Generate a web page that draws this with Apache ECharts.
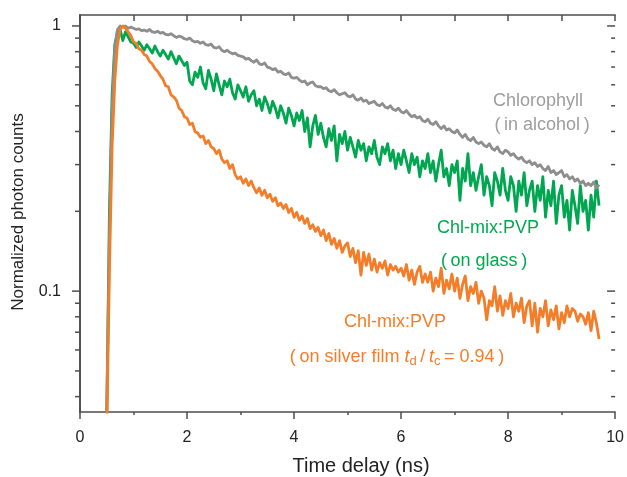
<!DOCTYPE html>
<html>
<head>
<meta charset="utf-8">
<script src="https://cdn.jsdelivr.net/npm/echarts@6/dist/echarts.min.js"></script>
<style>
  html, body { margin: 0; padding: 0; background: #fff; }
  #chart { width: 627px; height: 477px; }
</style>
</head>
<body>
<div id="chart"></div>
<script>
// Time grid of the decay traces: first sample and spacing (ns)
const T_START = 0.5;
const T_STEP = 0.05;

// Chlorophyll in alcohol (normalized counts)
const chlAlcohol = [
  0.035, 0.16, 0.48, 0.82, 0.97, 1.0, 0.99, 1.0, 0.98, 0.99,
  0.98, 0.97, 0.975, 0.96, 0.965, 0.955, 0.97, 0.95, 0.945, 0.955,
  0.94, 0.945, 0.93, 0.925, 0.935, 0.92, 0.905, 0.915, 0.91, 0.895,
  0.89, 0.9, 0.88, 0.87, 0.875, 0.86, 0.87, 0.85, 0.845, 0.855,
  0.83, 0.825, 0.835, 0.81, 0.8, 0.81, 0.795, 0.785, 0.79, 0.775,
  0.77, 0.765, 0.75, 0.755, 0.74, 0.73, 0.745, 0.72, 0.715, 0.725,
  0.70, 0.695, 0.685, 0.69, 0.67, 0.675, 0.66, 0.655, 0.665, 0.64,
  0.635, 0.64, 0.625, 0.615, 0.62, 0.6, 0.61, 0.615, 0.595, 0.59,
  0.59, 0.58, 0.585, 0.57, 0.565, 0.575, 0.56, 0.55, 0.555, 0.56,
  0.545, 0.54, 0.55, 0.53, 0.525, 0.535, 0.52, 0.525, 0.51, 0.515,
  0.52, 0.505, 0.5, 0.51, 0.495, 0.49, 0.5, 0.485, 0.48, 0.49,
  0.475, 0.47, 0.48, 0.465, 0.455, 0.46, 0.45, 0.455, 0.44, 0.435,
  0.445, 0.43, 0.425, 0.435, 0.42, 0.41, 0.42, 0.405, 0.41, 0.4,
  0.395, 0.405, 0.39, 0.38, 0.39, 0.375, 0.37, 0.38, 0.365, 0.36,
  0.365, 0.355, 0.35, 0.36, 0.345, 0.34, 0.35, 0.335, 0.33, 0.34,
  0.335, 0.325, 0.33, 0.32, 0.315, 0.32, 0.31, 0.305, 0.31, 0.3,
  0.305, 0.295, 0.3, 0.29, 0.285, 0.295, 0.28, 0.285, 0.275, 0.28,
  0.285, 0.27, 0.275, 0.265, 0.27, 0.26, 0.265, 0.255, 0.26, 0.25,
  0.255, 0.25, 0.258, 0.245, 0.252
];

// Chl-mix:PVP on glass
const pvpGlass = [
  0.035, 0.2, 0.55, 0.85, 0.95, 0.97, 0.88, 0.95, 0.91, 0.87,
  0.86, 0.83, 0.87, 0.84, 0.81, 0.85, 0.82, 0.79, 0.84, 0.80,
  0.77, 0.81, 0.78, 0.75, 0.80, 0.76, 0.72, 0.77, 0.74, 0.71,
  0.73, 0.62, 0.60, 0.67, 0.64, 0.70, 0.61, 0.58, 0.68, 0.63,
  0.57, 0.66, 0.60, 0.55, 0.62, 0.59, 0.63, 0.56, 0.53, 0.60,
  0.57, 0.54, 0.59, 0.52, 0.55, 0.57, 0.50, 0.53, 0.48, 0.54,
  0.51, 0.47, 0.52, 0.49, 0.45, 0.50, 0.47, 0.43, 0.49, 0.46,
  0.42, 0.47, 0.44, 0.48, 0.40, 0.45, 0.35, 0.42, 0.46, 0.39,
  0.43, 0.38, 0.35, 0.41, 0.37, 0.42, 0.31, 0.39, 0.36, 0.40,
  0.34, 0.38, 0.35, 0.32, 0.37, 0.34, 0.36, 0.31, 0.35, 0.33,
  0.37, 0.32, 0.30, 0.35, 0.33, 0.36, 0.31, 0.34, 0.29, 0.33,
  0.30, 0.34, 0.31, 0.28, 0.33, 0.30, 0.32, 0.27, 0.31, 0.29,
  0.33, 0.28, 0.31, 0.26, 0.30, 0.34, 0.27, 0.29, 0.25, 0.30,
  0.28, 0.31, 0.22, 0.29, 0.26, 0.33, 0.25, 0.28, 0.24, 0.27,
  0.30, 0.23, 0.27, 0.25, 0.21, 0.28, 0.26, 0.23, 0.29, 0.24,
  0.22, 0.27, 0.25, 0.20, 0.26, 0.23, 0.28, 0.21, 0.24, 0.26,
  0.20, 0.25, 0.22, 0.27, 0.19, 0.24, 0.21, 0.26, 0.18, 0.23,
  0.25, 0.19, 0.22, 0.17, 0.24, 0.21, 0.18, 0.25, 0.20, 0.22,
  0.17, 0.23, 0.19, 0.26, 0.21
];

// Chl-mix:PVP on silver film
const pvpSilver = [
  0.03, 0.12, 0.35, 0.62, 0.85, 0.97, 1.0, 0.98, 0.95, 0.92,
  0.87, 0.86, 0.82, 0.81, 0.78, 0.77, 0.735, 0.72, 0.69, 0.675,
  0.65, 0.63, 0.595, 0.59, 0.55, 0.54, 0.525, 0.49, 0.48, 0.455,
  0.45, 0.425, 0.43, 0.40, 0.395, 0.38, 0.385, 0.36, 0.37, 0.35,
  0.345, 0.33, 0.34, 0.315, 0.305, 0.31, 0.29, 0.3, 0.275, 0.265,
  0.27, 0.255, 0.265, 0.25, 0.26, 0.245, 0.235, 0.245, 0.23, 0.24,
  0.225, 0.232, 0.218, 0.225, 0.21, 0.215, 0.205, 0.212, 0.198, 0.205,
  0.19, 0.198, 0.185, 0.192, 0.18, 0.188, 0.172, 0.178, 0.168, 0.174,
  0.162, 0.17, 0.155, 0.165, 0.15, 0.158, 0.145, 0.155, 0.14, 0.148,
  0.152, 0.135, 0.145, 0.128, 0.142, 0.115, 0.14, 0.125, 0.138, 0.12,
  0.132, 0.118, 0.128, 0.122, 0.13, 0.115, 0.126, 0.12, 0.124, 0.118,
  0.122, 0.114, 0.126, 0.11, 0.12, 0.106, 0.118, 0.124, 0.108, 0.116,
  0.108, 0.118, 0.1, 0.112, 0.104, 0.122, 0.098, 0.11, 0.102, 0.116,
  0.1, 0.112, 0.094, 0.106, 0.114, 0.092, 0.104, 0.098, 0.108, 0.09,
  0.1, 0.094, 0.078, 0.092, 0.088, 0.104, 0.084, 0.096, 0.081, 0.092,
  0.086, 0.098, 0.08, 0.09, 0.084, 0.094, 0.076, 0.088, 0.092, 0.074,
  0.09, 0.07, 0.086, 0.08, 0.092, 0.074, 0.085, 0.078, 0.088, 0.072,
  0.083, 0.076, 0.088, 0.08, 0.086, 0.084, 0.077, 0.082, 0.08, 0.075,
  0.083, 0.071, 0.084, 0.076, 0.066
];

// Axis setup
const xTickLabels = [0, 2, 4, 6, 8, 10];
const yMajorTicks = [0.1, 1];
const yMinorTicks = [0.04, 0.05, 0.06, 0.07, 0.08, 0.09, 0.2, 0.3, 0.4, 0.5, 0.6, 0.7, 0.8, 0.9];
const Y_MIN = 0.035, Y_MAX = 1.1;
const X_MIN = 0, X_MAX = 10;

const FONT = "'Liberation Sans', Arial, Helvetica, sans-serif";
const AXIS_COLOR = '#4d4d4d';
const GRAY = '#8e8e8e', GREEN = '#00a650', ORANGE = '#f47d2a';

const times = chlAlcohol.map((_, i) => +(T_START + T_STEP * i).toFixed(2));
const pairs = vals => vals.map((v, i) => [times[i], v]);

const isPow10 = v => Math.abs(Math.log10(v) - Math.round(Math.log10(v))) < 1e-6;

const chart = echarts.init(document.getElementById('chart'), null, { renderer: 'canvas' });

const lineSeries = (name, vals, color) => ({
  name, type: 'line', data: pairs(vals), showSymbol: false, symbol: 'none',
  lineStyle: { color, width: 2.8, join: 'round' }, silent: true, animation: false,
  xAxisIndex: 0, yAxisIndex: 0, clip: true
});

// Y tick marks: left side points outward, right side points inward
const tickData = yMajorTicks.map(v => [0, v, 1]).concat(yMinorTicks.map(v => [0, v, 0]));

chart.setOption({
  animation: false,
  grid: { left: 80, right: 9, top: 15, bottom: 65, containLabel: false },
  xAxis: [{
    type: 'value', position: 'bottom', min: X_MIN, max: X_MAX, interval: 2,
    axisLine: { show: true, lineStyle: { color: AXIS_COLOR, width: 1.6 } },
    axisTick: { show: true, inside: false, length: 7, lineStyle: { color: AXIS_COLOR, width: 1.5 } },
    minorTick: { show: true, splitNumber: 2, length: 3, lineStyle: { color: AXIS_COLOR, width: 1.5 } },
    splitLine: { show: false },
    axisLabel: {
      margin: 18, color: '#222', fontSize: 16, fontFamily: FONT,
      formatter: v => (xTickLabels.indexOf(v) >= 0 ? String(v) : '')
    }
  }, {
    type: 'value', position: 'top', min: X_MIN, max: X_MAX, interval: 1,
    axisLine: { show: true, lineStyle: { color: AXIS_COLOR, width: 1.6 } },
    axisTick: { show: true, inside: true, length: 6, lineStyle: { color: AXIS_COLOR, width: 1.5 } },
    axisLabel: { show: false }, splitLine: { show: false }
  }],
  yAxis: [{
    type: 'log', logBase: 10, position: 'left', min: Y_MIN, max: Y_MAX,
    axisLine: { show: true, lineStyle: { color: AXIS_COLOR, width: 1.6 } },
    axisTick: { show: false }, minorTick: { show: false }, splitLine: { show: false },
    axisLabel: {
      margin: 19, color: '#222', fontSize: 16, fontFamily: FONT,
      showMinLabel: false, showMaxLabel: false,
      formatter: v => (isPow10(v) ? String(+v.toPrecision(3)) : '')
    }
  }, {
    type: 'log', logBase: 10, position: 'right', min: Y_MIN, max: Y_MAX,
    axisLine: { show: true, lineStyle: { color: AXIS_COLOR, width: 1.6 } },
    axisTick: { show: false }, minorTick: { show: false }, splitLine: { show: false },
    axisLabel: { show: false }
  }],
  series: [
    lineSeries('Chl-mix:PVP (on glass)', pvpGlass, GREEN),
    lineSeries('Chlorophyll (in alcohol)', chlAlcohol, GRAY),
    lineSeries('Chl-mix:PVP (on silver film)', pvpSilver, ORANGE),
    {
      type: 'custom', xAxisIndex: 0, yAxisIndex: 0, data: tickData, silent: true, z: 5, clip: false,
      renderItem: (params, api) => {
        const v = api.value(1);
        const major = api.value(2) === 1;
        const pL = api.coord([X_MIN, v]);
        const pR = api.coord([X_MAX, v]);
        const lenL = major ? 8 : 5, lenR = major ? 8 : 4;
        const st = { stroke: AXIS_COLOR, lineWidth: 1.5 };
        return {
          type: 'group', children: [
            { type: 'line', shape: { x1: pL[0] - lenL, y1: pL[1], x2: pL[0], y2: pL[1] }, style: st },
            { type: 'line', shape: { x1: pR[0] - lenR, y1: pR[1], x2: pR[0], y2: pR[1] }, style: st }
          ]
        };
      }
    }
  ],
  graphic: [
    { type: 'text', x: 18, y: 212, rotation: Math.PI / 2,
      style: { text: 'Normalized photon counts', fill: '#222', font: '17px ' + FONT, align: 'center', verticalAlign: 'middle' } },
    { type: 'text', x: 361, y: 466,
      style: { text: 'Time delay (ns)', fill: '#222', font: '20px ' + FONT, align: 'center', verticalAlign: 'middle' } },
    { type: 'text', x: 538, y: 101,
      style: { text: 'Chlorophyll', fill: '#9d9d9d', font: '18px ' + FONT, align: 'center', verticalAlign: 'middle' } },
    { type: 'text', x: 542, y: 125,
      style: { text: '(\u2009in alcohol\u2009)', fill: '#9d9d9d', font: '18px ' + FONT, align: 'center', verticalAlign: 'middle' } },
    { type: 'text', x: 488, y: 228,
      style: { text: 'Chl-mix:PVP', fill: '#00a94f', font: '18px ' + FONT, align: 'center', verticalAlign: 'middle' } },
    { type: 'text', x: 484, y: 261,
      style: { text: '(\u2009on glass\u2009)', fill: '#00a94f', font: '18px ' + FONT, align: 'center', verticalAlign: 'middle' } },
    { type: 'text', x: 395, y: 322,
      style: { text: 'Chl-mix:PVP', fill: '#f47d2a', font: '18px ' + FONT, align: 'center', verticalAlign: 'middle' } },
    { type: 'text', x: 397, y: 357,
      style: {
        text: '(\u2009on silver film {i|t}{s|d}\u2009/\u2009{i|t}{s|c}\u2009= 0.94\u2009)',
        fill: '#f47d2a', font: '18px ' + FONT, align: 'center', verticalAlign: 'middle',
        rich: {
          i: { fontStyle: 'italic', fontSize: 18, fontFamily: FONT, fill: '#f47d2a' },
          s: { fontSize: 13, fontFamily: FONT, fill: '#f47d2a', padding: [9, 0, 0, 0] }
        }
      } }
  ]
});
</script>
</body>
</html>
